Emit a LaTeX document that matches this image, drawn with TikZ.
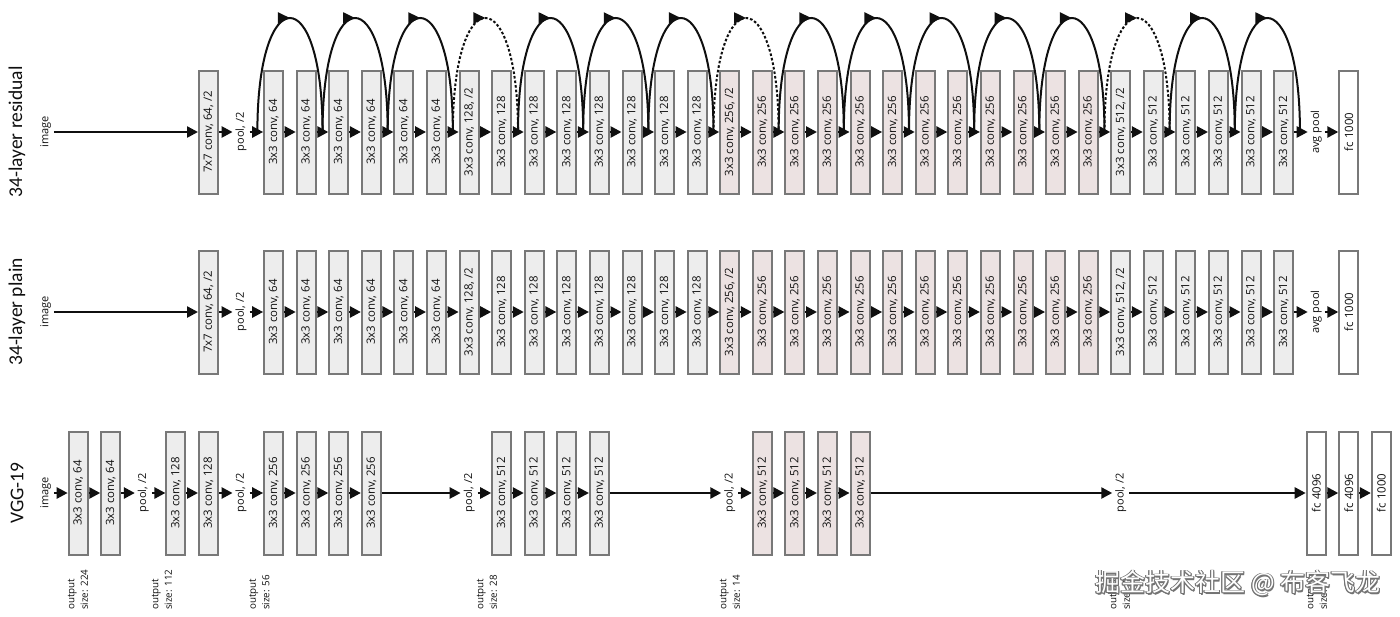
\documentclass[tikz,border=0pt]{standalone}
\usepackage{fontspec}
\setmainfont{Carlito}
\newfontfamily\boxfont{Open Sans}
\newfontfamily\cjk{Noto Sans CJK SC}
\usetikzlibrary{arrows.meta,decorations.markings}
\definecolor{boxgray}{RGB}{237,237,237}
\definecolor{boxpink}{RGB}{236,226,226}
\definecolor{boxedge}{RGB}{120,120,120}
\definecolor{ink}{RGB}{15,15,15}
\begin{document}
\begin{tikzpicture}[x=1pt,y=-1pt,
  layer/.style={draw=boxedge, line width=2pt, fill=boxgray, rotate=90,
    minimum width=123pt, minimum height=19pt, inner sep=0pt,
    font=\boxfont\fontsize{11.4}{11}\selectfont, text=ink},
  pinklayer/.style={layer, fill=boxpink},
  fclayer/.style={layer, fill=white},
  lbl/.style={rotate=90, inner sep=0pt, outer sep=3pt, font=\boxfont\fontsize{11}{11}\selectfont, text=ink},
  title/.style={rotate=90, inner sep=0pt, font=\fontsize{19.5}{20}\selectfont, text=ink},
  outlbl/.style={rotate=90, anchor=west, align=left, inner sep=0pt, font=\boxfont\fontsize{9.8}{13.5}\selectfont, text=ink},
  flow/.style={draw=ink, line width=2.5pt, -{Triangle[length=11pt,width=11pt]}},
  skip/.style={draw=ink, line width=2pt,
    postaction={decorate, decoration={markings, mark=at position 0.5 with {\arrow[ink]{Triangle[length=12pt,width=11pt]}}}}},
  dskip/.style={skip, dash pattern=on 2.6pt off 2pt}
]
\useasboundingbox (0,0) rectangle (1400,616);

% ---------------- titles
\node[title] (t1) at (17,132) {34-layer residual};
\node[title] (t2) at (17,312) {34-layer plain};
\node[title] (t3) at (17,493) {VGG-19};

% ---------------- residual and plain rows
\foreach \R/\Y in {r/132, p/312}{
  \node[lbl] (\R img) at (45.6,\Y) {image};
  \node[layer] (\R0) at (208.5,\Y) {7x7 conv, 64, /2};
  \node[lbl] (\R1) at ({208.5+32.58},\Y) {pool, /2};
  \foreach \i in {2,...,7} \node[layer] (\R\i) at ({208.5+32.58*\i},\Y) {3x3 conv, 64};
  \node[layer] (\R8) at ({208.5+32.58*8},\Y) {3x3 conv, 128, /2};
  \foreach \i in {9,...,15} \node[layer] (\R\i) at ({208.5+32.58*\i},\Y) {3x3 conv, 128};
  \node[pinklayer] (\R16) at ({208.5+32.58*16},\Y) {3x3 conv, 256, /2};
  \foreach \i in {17,...,27} \node[pinklayer] (\R\i) at ({208.5+32.58*\i},\Y) {3x3 conv, 256};
  \node[layer] (\R28) at ({208.5+32.58*28},\Y) {3x3 conv, 512, /2};
  \foreach \i in {29,...,33} \node[layer] (\R\i) at ({208.5+32.58*\i},\Y) {3x3 conv, 512};
  \node[lbl] (\R34) at ({208.5+32.58*34},\Y) {avg pool};
  \node[fclayer] (\R35) at ({208.5+32.58*35},\Y) {fc 1000};
  \draw[flow] (\R img) -- (\R0);
  \foreach \i [evaluate=\i as \j using int(\i+1)] in {0,...,34} \draw[flow] (\R\i) -- (\R\j);
}

% shortcut connections (residual row)
\foreach \k in {0,...,32} \coordinate (g\k) at ({224.8+32.58*(\k+1)},132);
\foreach \j in {1,2,3,5,6,7,9,10,11,12,13,15,16}{
  \pgfmathtruncatemacro\s{2*\j-2}\pgfmathtruncatemacro\e{2*\j}
  \draw[skip] (g\s) .. controls +(0,-152) and +(0,-152) .. (g\e);
}
\foreach \j in {4,8,14}{
  \pgfmathtruncatemacro\s{2*\j-2}\pgfmathtruncatemacro\e{2*\j}
  \draw[dskip] (g\s) .. controls +(0,-152) and +(0,-152) .. (g\e);
}

% ---------------- VGG-19 row
\def\Y{493}
\node[lbl] (vimg) at ({208.5+32.58*(-5)},\Y) {image};
\node[layer] (v1) at ({208.5+32.58*(-4)},\Y) {3x3 conv, 64};
\node[layer] (v2) at ({208.5+32.58*(-3)},\Y) {3x3 conv, 64};
\node[lbl] (v3) at ({208.5+32.58*(-2)},\Y) {pool, /2};
\node[layer] (v4) at ({208.5+32.58*(-1)},\Y) {3x3 conv, 128};
\node[layer] (v5) at ({208.5},\Y) {3x3 conv, 128};
\node[lbl] (v6) at ({208.5+32.58},\Y) {pool, /2};
\foreach \n in {7,...,10} \node[layer] (v\n) at ({208.5+32.58*(\n-5)},\Y) {3x3 conv, 256};
\node[lbl] (v11) at ({208.5+32.58*8},\Y) {pool, /2};
\foreach \n in {12,...,15} \node[layer] (v\n) at ({208.5+32.58*(\n-3)},\Y) {3x3 conv, 512};
\node[lbl] (v16) at ({208.5+32.58*16},\Y) {pool, /2};
\foreach \n in {17,...,20} \node[pinklayer] (v\n) at ({208.5+32.58*\n},\Y) {3x3 conv, 512};
\node[lbl] (v21) at ({208.5+32.58*28},\Y) {pool, /2};
\node[fclayer] (v22) at ({208.5+32.58*34},\Y) {fc 4096};
\node[fclayer] (v23) at ({208.5+32.58*35},\Y) {fc 4096};
\node[fclayer] (v24) at ({208.5+32.58*36},\Y) {fc 1000};
\draw[flow] (vimg) -- (v1);
\foreach \i [evaluate=\i as \j using int(\i+1)] in {1,...,23} \draw[flow] (v\i) -- (v\j);

% output sizes
\node[outlbl] (o1) at (78,610) {output\\size: 224};
\node[outlbl] (o2) at (162,610) {output\\size: 112};
\node[outlbl] (o3) at (259.5,610) {output\\size: 56};
\node[outlbl] (o4) at (487,610) {output\\size: 28};
\node[outlbl] (o5) at (730,610) {output\\size: 14};
\node[outlbl] (o6) at (1120,610) {output\\size: 7};
\node[outlbl] (o7) at (1317,610) {output\\size: 1};

% watermark
\foreach \dx/\dy in {-0.9/0,0.9/0,0/-0.9,0/0.9,0.7/0.7,-0.7/0.7,0.7/-0.7,-0.7/-0.7,1.3/1.3}
  \node[font=\cjk\fontsize{25}{25}\selectfont, text=black!55, inner sep=0pt] at (1238+\dx,583.5+\dy) {掘金技术社区 @ 布客飞龙};
\node[font=\cjk\fontsize{25}{25}\selectfont, text=white, inner sep=0pt] (wm) at (1238,583.5) {掘金技术社区 @ 布客飞龙};
\end{tikzpicture}
\end{document}
